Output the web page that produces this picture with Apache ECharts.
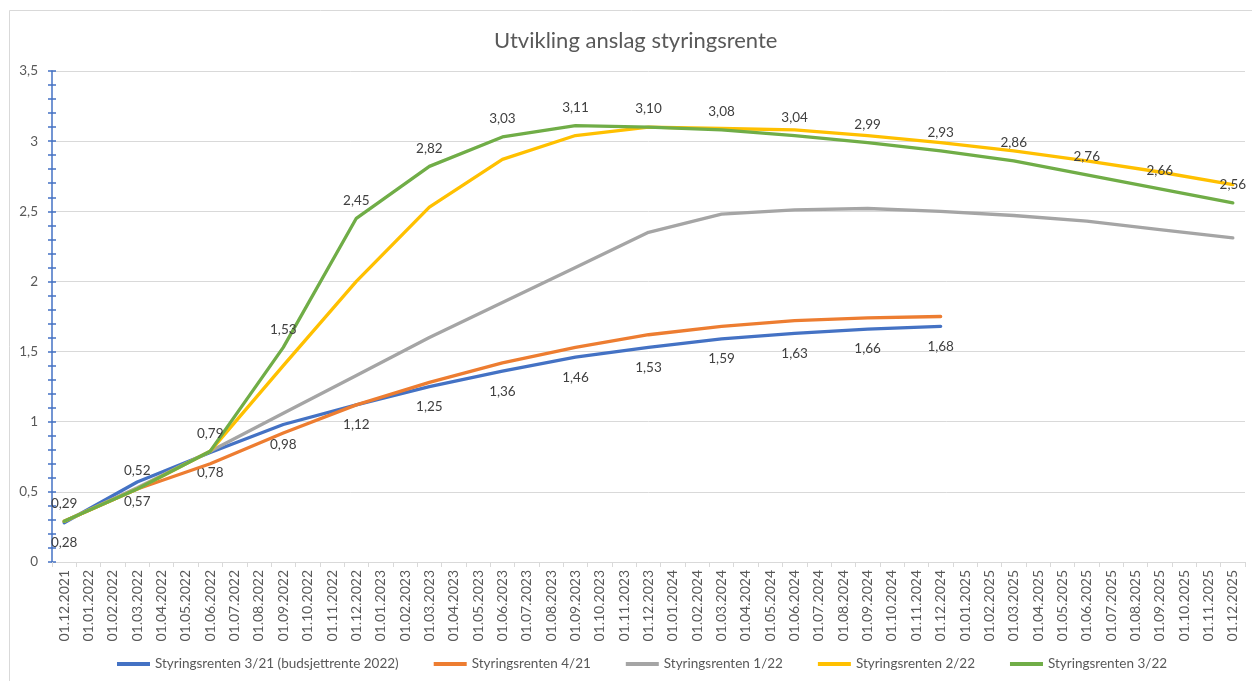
<!DOCTYPE html>
<html>
<head>
<meta charset="utf-8">
<script src="https://cdn.jsdelivr.net/npm/echarts@6/dist/echarts.min.js"></script>
<style>
html,body{margin:0;padding:0;background:#fff;}
#chart{width:1252px;height:681px;}
</style>
</head>
<body>
<div id="chart"></div>
<script>
var categories = [
 "01.12.2021","01.01.2022","01.02.2022","01.03.2022","01.04.2022","01.05.2022","01.06.2022","01.07.2022","01.08.2022","01.09.2022","01.10.2022","01.11.2022",
 "01.12.2022","01.01.2023","01.02.2023","01.03.2023","01.04.2023","01.05.2023","01.06.2023","01.07.2023","01.08.2023","01.09.2023","01.10.2023","01.11.2023",
 "01.12.2023","01.01.2024","01.02.2024","01.03.2024","01.04.2024","01.05.2024","01.06.2024","01.07.2024","01.08.2024","01.09.2024","01.10.2024","01.11.2024",
 "01.12.2024","01.01.2025","01.02.2025","01.03.2025","01.04.2025","01.05.2025","01.06.2025","01.07.2025","01.08.2025","01.09.2025","01.10.2025","01.11.2025",
 "01.12.2025"
];
var quarterDates = ["01.12.2021","01.03.2022","01.06.2022","01.09.2022","01.12.2022","01.03.2023","01.06.2023","01.09.2023","01.12.2023","01.03.2024","01.06.2024","01.09.2024","01.12.2024","01.03.2025","01.06.2025","01.09.2025","01.12.2025"];
var seriesNames = ["Styringsrenten 3/21 (budsjettrente 2022)","Styringsrenten 4/21","Styringsrenten 1/22","Styringsrenten 2/22","Styringsrenten 3/22"];
var rente321 = [0.28,0.57,0.78,0.98,1.12,1.25,1.36,1.46,1.53,1.59,1.63,1.66,1.68];
var rente421 = [0.29,0.52,0.70,0.92,1.12,1.28,1.42,1.53,1.62,1.68,1.72,1.74,1.75];
var rente122 = [0.29,0.53,0.79,1.06,1.33,1.60,1.85,2.10,2.35,2.48,2.51,2.52,2.50,2.47,2.43,2.37,2.31];
var rente222 = [0.29,0.52,0.79,1.40,2.00,2.53,2.87,3.04,3.10,3.09,3.08,3.04,2.99,2.93,2.86,2.78,2.69];
var rente322 = [0.29,0.52,0.79,1.53,2.45,2.82,3.03,3.11,3.10,3.08,3.04,2.99,2.93,2.86,2.76,2.66,2.56];
var colors = ["#4472C4","#ED7D31","#A5A5A5","#FFC000","#70AD47"];
var yTicks = {min:0, max:3.5, interval:0.5};

var FONT = "Lato";
function pairs(vals){ return vals.map(function(v,i){ return [quarterDates[i], v]; }); }
function fmt(v){ return String(v).replace('.', ','); }
function fmt2(v){ return v.toFixed(2).replace('.', ','); }

var allVals = [rente321, rente421, rente122, rente222, rente322];
var labelCfg = [
  {show:true, position:'bottom', distance:13},
  {show:false},
  {show:false},
  {show:false},
  {show:true, position:'top', distance:11}
];
var series = allVals.map(function(vals, k){
  var lc = labelCfg[k];
  return {
    name: seriesNames[k],
    type: 'line',
    data: pairs(vals),
    showSymbol: lc.show,
    symbol: 'circle',
    symbolSize: 0,
    itemStyle: {color: colors[k]},
    lineStyle: {color: colors[k], width: 3.3, cap:'round', join:'round'},
    connectNulls: true,
    smooth: false,
    z: 2 + k,
    label: lc.show ? {
      show: true, position: lc.position, distance: lc.distance,
      fontFamily: FONT, fontSize: 13.5, color: '#404040',
      formatter: function(p){ return fmt2(p.value[1]); }
    } : {show:false},
    emphasis: {disabled: true},
    animation: false
  };
});

var chart = echarts.init(document.getElementById('chart'), null, {renderer:'canvas'});
chart.setOption({
  animation: false,
  backgroundColor: '#ffffff',
  textStyle: {fontFamily: FONT},
  title: {
    text: 'Utvikling anslag styringsrente',
    left: 489, top: 25,
    textStyle: {fontFamily: FONT, fontSize: 22, fontWeight: 'normal', color: '#595959'}
  },
  graphic: [{
    type: 'rect', shape: {x: 9.5, y: 10.5, width: 1260, height: 690},
    style: {fill: 'none', stroke: '#d9d9d9', lineWidth: 1}, silent: true, z: -1
  }],
  legend: {
    bottom: 5, left: 112,
    itemWidth: 33, itemHeight: 4, itemGap: 35,
    icon: 'rect',
    textStyle: {fontFamily: FONT, fontSize: 13.5, color: '#595959'},
    data: seriesNames
  },
  grid: {left: 52, right: 7, top: 71, bottom: 119, containLabel: false},
  xAxis: {
    type: 'category',
    data: categories,
    boundaryGap: true,
    axisLine: {lineStyle: {color: '#d9d9d9', width: 1}},
    axisTick: {show: true, interval: 0, length: 5, lineStyle: {color: '#d9d9d9'}},
    axisLabel: {interval: 0, rotate: 90, margin: 8, fontFamily: FONT, fontSize: 14, color: '#595959'},
    splitLine: {show: false}
  },
  yAxis: [{
    type: 'value',
    min: yTicks.min, max: yTicks.max, interval: yTicks.interval,
    axisLine: {show: true, lineStyle: {color: '#4472C4', width: 1.5}},
    axisTick: {show: true, length: 4, lineStyle: {color: '#4472C4', width: 1.5}},
    minorTick: {show: true, splitNumber: 5, length: 4, lineStyle: {color: '#4472C4', width: 1.5}},
    axisLabel: {margin: 14, fontFamily: FONT, fontSize: 13.5, color: '#595959', formatter: fmt},
    splitLine: {show: true, lineStyle: {color: '#d9d9d9', width: 1}}
  },{
    type: 'value',
    min: yTicks.min, max: yTicks.max, interval: yTicks.interval,
    position: 'left', offset: 0,
    axisLine: {show: false},
    axisTick: {show: true, inside: true, length: 4, lineStyle: {color: '#4472C4', width: 1.5}},
    minorTick: {show: true, splitNumber: 5, length: 4, lineStyle: {color: '#4472C4', width: 1.5}},
    axisLabel: {show: false},
    splitLine: {show: false}
  }],
  series: series
});
</script>
</body>
</html>
